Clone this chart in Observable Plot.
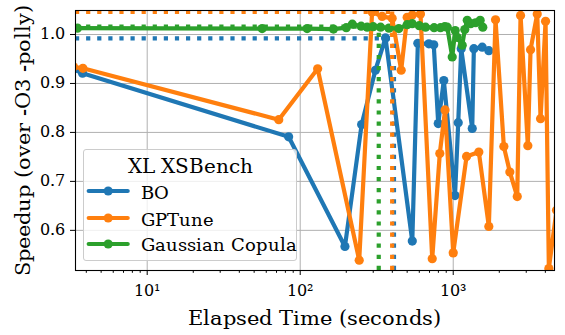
<!DOCTYPE html>
<html><head><meta charset="utf-8">
<script src="https://cdn.jsdelivr.net/npm/d3@7"></script>
<script src="https://cdn.jsdelivr.net/npm/@observablehq/plot@0.6"></script>
<style>
@font-face{font-family:"ChartSerif";src:local("DejaVu Serif"),local("DejaVuSerif"),local("DejaVu Serif Book");}
body{margin:0;background:#fff;}
#wrap{position:relative;width:565px;height:335px;color:#000;}
#wrap > svg{position:absolute;left:0;top:0;}
.lbl{position:absolute;white-space:nowrap;font-size:20.5px;line-height:normal;}
#legend{position:absolute;left:83px;top:149px;width:214px;height:112px;background:rgba(255,255,255,0.8);border:1px solid #cccccc;border-radius:3px;box-sizing:border-box;}
#legend .ttl{position:absolute;left:0;width:100%;top:3.7px;text-align:center;font-size:20px;line-height:normal;white-space:nowrap;}
#legend .txt{position:absolute;left:56.7px;font-size:17.5px;line-height:normal;white-space:nowrap;}
#legend svg{position:absolute;left:0;}
</style></head><body><div id="wrap"></div>
<script>
const seriesNames = ["BO", "GPTune", "Gaussian Copula"];
const seriesColors = ["#1f77b4", "#ff7f0e", "#2ca02c"];
const legendTitle = "XL XSBench";
const xLabel = "Elapsed Time (seconds)";
const yLabel = "Speedup (over -O3 -polly)";

const boTime = [3.3, 3.78, 84, 196, 252, 310, 361, 540, 587, 693, 746, 798, 868, 1027, 1078, 1128, 1331, 1364, 1547, 1709];
const boSpeedup = [0.929, 0.921, 0.791, 0.567, 0.816, 0.927, 0.993, 0.578, 0.982, 0.981, 0.979, 0.818, 0.906, 0.671, 0.820, 0.971, 0.808, 0.971, 0.974, 0.967];

const gpTime = [3.3, 3.8, 72.4, 130, 243, 295, 343, 399, 457, 500, 540, 611, 729, 817, 884, 1000, 1222, 1470, 1709, 1890, 2142, 2344, 2620, 2754, 3073, 3201, 3540, 3721, 4012, 4216, 4730];
const gpSpeedup = [0.934, 0.931, 0.826, 0.930, 0.539, 1.046, 1.037, 1.033, 0.927, 1.035, 1.040, 1.042, 0.542, 0.757, 0.846, 0.554, 0.751, 0.760, 0.608, 1.030, 0.771, 0.719, 0.669, 1.039, 0.773, 0.969, 1.042, 0.828, 1.027, 0.522, 0.641];

const gcTime = [3.5, 56.4, 111, 165, 200, 219, 250, 274, 300, 335, 380, 441, 500, 540, 600, 659, 750, 826, 880, 914, 985, 1030, 1062, 1145, 1190, 1235, 1300, 1400, 1500, 1560];
const gcSpeedup = [1.013, 1.012, 1.012, 1.011, 1.014, 1.021, 1.017, 1.015, 1.016, 1.015, 1.013, 1.012, 1.020, 1.022, 1.018, 1.015, 1.014, 1.014, 1.016, 1.015, 0.954, 1.008, 0.994, 0.978, 1.010, 1.029, 1.022, 1.024, 1.029, 1.015];

const bestTime = [410, 399, 326];
const bestSpeedup = [0.992, 1.046, 1.016];

const xTicks = [10, 100, 1000];
const xTickLabels = ["10¹", "10²", "10³"];
const xMinorTicks = [4,5,6,7,8,9,20,30,40,50,60,70,80,90,200,300,400,500,600,700,800,900,2000,3000,4000];
const yTicks = [0.6, 0.7, 0.8, 0.9, 1.0];
const xDomain = [3.4, 4590];
const yDomain = [0.518, 1.049];

const FONT = '"ChartSerif", "DejaVu Serif", "Liberation Serif", monospace';
const allTimes = [boTime, gpTime, gcTime];
const allSpeedups = [boSpeedup, gpSpeedup, gcSpeedup];
const seriesData = seriesNames.map((name, i) => allTimes[i].map((t, j) => ({series: name, t, s: allSpeedups[i][j]})));
const best = seriesNames.map((name, i) => ({series: name, t: bestTime[i], s: bestSpeedup[i], c: seriesColors[i]}));

const marks = [
  Plot.gridX(xTicks, {stroke: "#b0b0b0", strokeOpacity: 1, strokeWidth: 1}),
  Plot.gridY(yTicks, {stroke: "#b0b0b0", strokeOpacity: 1, strokeWidth: 1}),
];
seriesData.forEach((d, i) => {
  marks.push(Plot.line(d, {x: "t", y: "s", stroke: seriesColors[i], strokeWidth: 4.2, strokeLinejoin: "round", strokeLinecap: "round", clip: true}));
  marks.push(Plot.dot(d, {x: "t", y: "s", fill: seriesColors[i], r: 4.6, stroke: "none", clip: true}));
});
best.forEach(b => {
  marks.push(Plot.ruleY([b], {y: "s", x1: xDomain[0], x2: "t", stroke: b.c, strokeWidth: 4.2, strokeDasharray: "4.2,6.9", clip: true}));
  marks.push(Plot.ruleX([b], {x: "t", y1: yDomain[0], y2: "s", stroke: b.c, strokeWidth: 4.2, strokeDasharray: "4.2,6.9", clip: true}));
});
marks.push(
  Plot.axisX(xMinorTicks, {tickSize: 2.8, tickFormat: () => "", label: null}),
  Plot.axisX(xTicks, {tickSize: 5, tickPadding: 9, tickFormat: d => xTickLabels[xTicks.indexOf(d)], fontSize: 15.5, label: null}),
  Plot.axisY(yTicks, {tickSize: 5, tickPadding: 6, tickFormat: d => d.toFixed(1), fontSize: 15.5, label: null}),
  Plot.frame({stroke: "black", strokeWidth: 1.1})
);

const chart = Plot.plot({
  width: 565, height: 335,
  marginLeft: 75, marginRight: 11, marginTop: 10, marginBottom: 65,
  x: {type: "log", domain: xDomain},
  y: {domain: yDomain},
  style: {fontFamily: FONT, fontSize: "15.5px", color: "black", background: "white"},
  marks
});

const wrap = document.getElementById("wrap");
wrap.style.fontFamily = FONT;
wrap.appendChild(chart);

const xl = document.createElement("div");
xl.className = "lbl"; xl.textContent = xLabel;
xl.style.left = "314.5px"; xl.style.top = "306px"; xl.style.transform = "translateX(-50%)";
wrap.appendChild(xl);

const yl = document.createElement("div");
yl.className = "lbl"; yl.textContent = yLabel;
yl.style.left = "23px"; yl.style.top = "140px"; yl.style.transform = "translate(-50%,-50%) rotate(-90deg)";
wrap.appendChild(yl);

const lg = document.createElement("div");
lg.id = "legend";
const ttl = document.createElement("div"); ttl.className = "ttl"; ttl.textContent = legendTitle; lg.appendChild(ttl);
const lineYs = [41.4, 68, 94];
const textTops = [32.8, 59.5, 85.2];
seriesNames.forEach((n, i) => {
  const sw = document.createElementNS("http://www.w3.org/2000/svg", "svg");
  sw.setAttribute("width", "50"); sw.setAttribute("height", "14");
  sw.style.top = (lineYs[i] - 7) + "px";
  sw.innerHTML = `<line x1="4.7" y1="7" x2="43.7" y2="7" stroke="${seriesColors[i]}" stroke-width="4.2" stroke-linecap="round"/><circle cx="24.2" cy="7" r="4.6" fill="${seriesColors[i]}"/>`;
  lg.appendChild(sw);
  const tx = document.createElement("div"); tx.className = "txt"; tx.textContent = n;
  tx.style.top = textTops[i] + "px";
  lg.appendChild(tx);
});
wrap.appendChild(lg);

wrap.querySelectorAll("div, text, svg").forEach(el => { el.style.fontFamily = FONT; });
</script></body></html>
